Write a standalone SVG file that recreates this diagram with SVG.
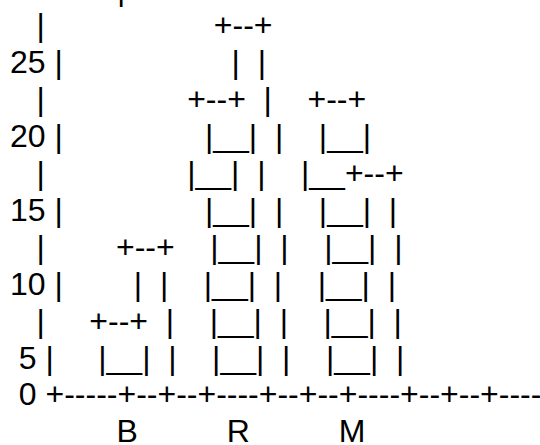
<svg xmlns="http://www.w3.org/2000/svg" width="540" height="445" viewBox="0 0 540 445" xml:space="preserve">
<style>
text{font-family:"Liberation Sans",Arial,sans-serif;font-size:32px;fill:#000;white-space:pre}
</style>
<rect x="0" y="0" width="540" height="445" fill="#fff"/>
<g id="chart">
<text x="72.4" y="-0.5">30 |</text>
<text x="1" y="36.4">    |                   +--+</text>
<text x="1" y="73.3"> 25 |                   |  |</text>
<text x="1" y="110.2">    |                +--+  |    +--+</text>
<text x="1" y="147.1"> 20 |                |__|  |    |__|</text>
<text x="1" y="184">    |                |__|  |    |__+--+</text>
<text x="1" y="220.9"> 15 |                |__|  |    |__|  |</text>
<text x="1" y="257.8">    |        +--+    |__|  |    |__|  |</text>
<text x="1" y="294.7"> 10 |        |  |    |__|  |    |__|  |</text>
<text x="1" y="331.6">    |     +--+  |    |__|  |    |__|  |</text>
<text x="1" y="368.5">  5 |     |__|  |    |__|  |    |__|  |</text>
<text x="1" y="405.4">  0 +-----+--+--+----+--+--+----+--+--+----</text>
<text x="1" y="442.3">             B          R          M</text>
</g>
<g id="connectors"/>
</svg>
